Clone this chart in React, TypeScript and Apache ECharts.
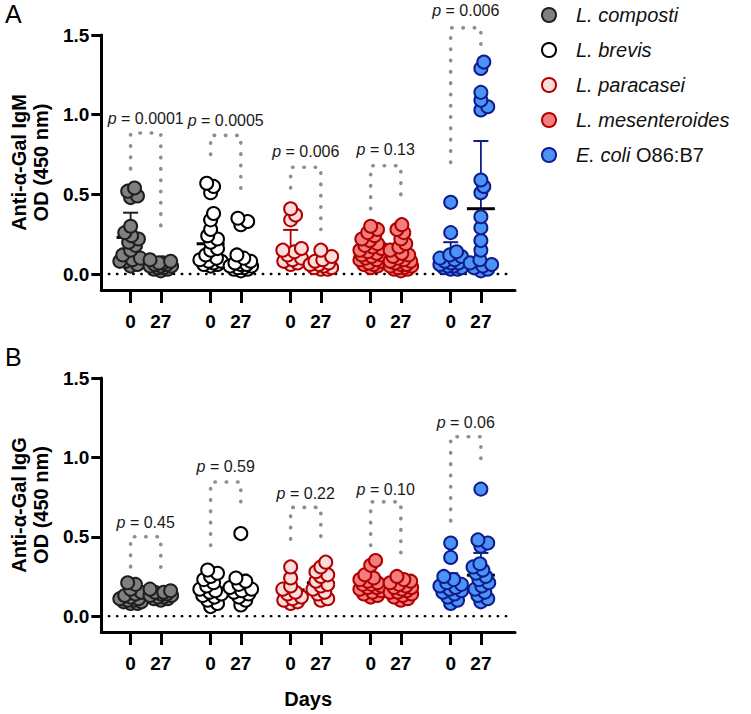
import React, { useEffect, useRef } from "react";
import * as echarts from "echarts";

// ---------- data ----------
const SPECIES = ["L. composti", "L. brevis", "L. paracasei", "L. mesenteroides", "E. coli O86:B7"];
const DAY_LABELS = ["0", "27"];
const Y_TICKS = [0, 0.5, 1.0, 1.5];

// IgM (panel A)
const igmDay0 = [
  [0.54, 0.52, 0.49, 0.48, 0.30, 0.26, 0.24, 0.22, 0.20, 0.18, 0.15, 0.12, 0.10, 0.09, 0.08, 0.08, 0.06, 0.05],
  [0.57, 0.55, 0.51, 0.38, 0.34, 0.28, 0.24, 0.22, 0.20, 0.16, 0.15, 0.12, 0.10, 0.09, 0.08, 0.08, 0.07, 0.06, 0.06, 0.05],
  [0.41, 0.37, 0.34, 0.16, 0.15, 0.14, 0.12, 0.10, 0.09, 0.08, 0.07, 0.06],
  [0.30, 0.28, 0.26, 0.24, 0.22, 0.21, 0.19, 0.18, 0.17, 0.16, 0.15, 0.14, 0.13, 0.12, 0.12, 0.11, 0.10, 0.09, 0.09, 0.08, 0.07, 0.06, 0.06, 0.05, 0.04],
  [0.45, 0.26, 0.14, 0.12, 0.11, 0.10, 0.09, 0.08, 0.07, 0.07, 0.06, 0.05, 0.05, 0.04, 0.04, 0.03, 0.03],
];
const igmDay27 = [
  [0.09, 0.08, 0.07, 0.07, 0.06, 0.06, 0.05, 0.05, 0.05, 0.04, 0.04, 0.03, 0.03, 0.02],
  [0.35, 0.33, 0.31, 0.12, 0.10, 0.08, 0.07, 0.06, 0.06, 0.05, 0.05, 0.04, 0.04, 0.03, 0.03, 0.02],
  [0.15, 0.11, 0.09, 0.08, 0.07, 0.06, 0.06, 0.05, 0.04, 0.04, 0.03, 0.03],
  [0.31, 0.28, 0.26, 0.22, 0.19, 0.17, 0.15, 0.13, 0.12, 0.11, 0.10, 0.09, 0.08, 0.08, 0.07, 0.06, 0.06, 0.05, 0.05, 0.04, 0.04, 0.03, 0.03, 0.02],
  [1.33, 1.29, 1.14, 1.09, 1.05, 1.03, 0.59, 0.55, 0.51, 0.36, 0.29, 0.21, 0.15, 0.09, 0.07, 0.06, 0.05, 0.04, 0.03, 0.02],
];
const igmMean0 = [0.23, 0.19, 0.157, 0.14, 0.09];
const igmSd0 = [0.155, 0.15, 0.12, 0.07, 0.11];
const igmMean27 = [0.055, 0.07, 0.07, 0.10, 0.41];
const igmSd27 = [0.02, 0.05, 0.035, 0.07, 0.425];
const igmP = ["0.0001", "0.0005", "0.006", "0.13", "0.006"];
const igmPLabelY = [0.975, 0.965, 0.77, 0.78, 1.655];
const igmBracketTop = [0.885, 0.87, 0.67, 0.68, 1.545];
const igmBracketLeft = [0.66, 0.75, 0.54, 0.41, 0.70];
const igmBracketRight = [0.26, 0.48, 0.28, 0.44, 1.42];

// IgG (panel B)
const iggDay0 = [
  [0.21, 0.20, 0.17, 0.15, 0.14, 0.13, 0.12, 0.11, 0.11, 0.10, 0.10, 0.09, 0.09, 0.08, 0.08],
  [0.29, 0.27, 0.25, 0.23, 0.21, 0.19, 0.17, 0.16, 0.15, 0.14, 0.13, 0.12, 0.10, 0.08, 0.06],
  [0.31, 0.24, 0.19, 0.17, 0.15, 0.14, 0.12, 0.11, 0.10, 0.09, 0.08],
  [0.35, 0.32, 0.26, 0.24, 0.23, 0.22, 0.21, 0.20, 0.20, 0.19, 0.18, 0.18, 0.17, 0.16, 0.15, 0.14, 0.13, 0.12],
  [0.46, 0.37, 0.25, 0.23, 0.21, 0.20, 0.19, 0.18, 0.17, 0.16, 0.15, 0.14, 0.12, 0.10, 0.08],
];
const iggDay27 = [
  [0.17, 0.16, 0.15, 0.15, 0.14, 0.14, 0.13, 0.13, 0.12, 0.12, 0.11, 0.11, 0.10],
  [0.52, 0.24, 0.22, 0.20, 0.18, 0.17, 0.16, 0.15, 0.14, 0.12, 0.10, 0.07],
  [0.34, 0.31, 0.28, 0.26, 0.25, 0.22, 0.20, 0.19, 0.17, 0.15, 0.14, 0.11, 0.10],
  [0.25, 0.23, 0.22, 0.21, 0.20, 0.19, 0.18, 0.18, 0.17, 0.16, 0.15, 0.15, 0.14, 0.13, 0.12, 0.11, 0.10],
  [0.80, 0.48, 0.46, 0.44, 0.33, 0.31, 0.29, 0.27, 0.25, 0.23, 0.21, 0.19, 0.17, 0.15, 0.13, 0.11, 0.09],
];
const iggMean0 = [0.12, 0.17, 0.165, 0.20, 0.20];
const iggSd0 = [0.04, 0.07, 0.07, 0.06, 0.07];
const iggMean27 = [0.13, 0.18, 0.21, 0.17, 0.258];
const iggSd27 = [0.02, 0.08, 0.07, 0.04, 0.14];
const iggP = ["0.45", "0.59", "0.22", "0.10", "0.06"];
const iggPLabelY = [0.59, 0.94, 0.77, 0.80, 1.22];
const iggBracketTop = [0.50, 0.845, 0.685, 0.72, 1.13];
const iggBracketLeft = [0.31, 0.445, 0.485, 0.445, 0.60];
const iggBracketRight = [0.27, 0.655, 0.45, 0.40, 0.94];

// ---------- layout / style ----------
const GROUP_X = [0, 2.65, 5.3, 7.95, 10.6]; // day-0 slot of each species, day 27 = +1
const X_MIN = -0.97;
const X_MAX = 12.73;
const ZERO_END = 12.47;
const Y_MIN = -0.1;
const Y_MAX = 1.5;
const GRID_W = 422;
const GRID_H = 255;
const PX_X = GRID_W / (X_MAX - X_MIN);
const PX_Y = GRID_H / (Y_MAX - Y_MIN);

const FILL = ["#808080", "#ffffff", "#fddcdc", "#f27e7e", "#4b93f4"];
const EDGE = ["#1e1e1e", "#000000", "#b00000", "#b00000", "#101c8e"];
const FONT = "'Liberation Sans', Arial, Helvetica, sans-serif";

const TICK_POS: number[] = [];
const TICK_LAB: string[] = [];
GROUP_X.forEach((g) => {
  TICK_POS.push(g, g + 1);
  TICK_LAB.push(DAY_LABELS[0], DAY_LABELS[1]);
});

function swarm(values: number[], center: number): [number, number][] {
  const D = 6.8;
  const MAX = 11;
  const placed: { x: number; y: number }[] = [];
  const out: [number, number][] = [];
  const sorted = [...values].sort((a, b) => a - b);
  const cands: number[] = [0];
  for (let k = 1; k <= MAX; k++) cands.push(k, -k);
  for (const v of sorted) {
    const y = v * PX_Y;
    let best = 0;
    let bestScore = -Infinity;
    for (const c of cands) {
      let md = Infinity;
      for (const p of placed) {
        const d = Math.hypot(p.x - c, p.y - y);
        if (d < md) md = d;
      }
      if (md >= D) {
        best = c;
        break;
      }
      if (md > bestScore) {
        bestScore = md;
        best = c;
      }
    }
    placed.push({ x: best, y });
    out.push([center + best / PX_X, v]);
  }
  return out;
}

function panelSeries(
  idx: number,
  d0: number[][],
  d27: number[][],
  m0: number[],
  s0: number[],
  m27: number[],
  s27: number[],
  pVals: string[],
  pY: number[],
  bTop: number[],
  bL: number[],
  bR: number[]
): any[] {
  const series: any[] = [];
  // zero dotted line
  series.push({
    type: "line",
    xAxisIndex: idx,
    yAxisIndex: idx,
    data: [
      [X_MIN + 0.25, 0],
      [ZERO_END, 0],
    ],
    symbol: "none",
    silent: true,
    z: 1,
    lineStyle: { color: "#000", width: 2.4, type: [0.5, 7.6], cap: "round" },
  });
  // brackets
  GROUP_X.forEach((g, i) => {
    series.push({
      type: "line",
      xAxisIndex: idx,
      yAxisIndex: idx,
      clip: false,
      symbol: "none",
      silent: true,
      z: 1,
      data: [
        [g, bL[i]],
        [g, bTop[i]],
        [g + 1, bTop[i]],
        [g + 1, bR[i]],
      ],
      lineStyle: { color: "#8e8e8e", width: 3.6, type: [0.5, 10.8], cap: "round" },
    });
  });
  // error bars + means
  const errData: number[][] = [];
  GROUP_X.forEach((g, i) => {
    errData.push([g, m0[i], s0[i], i]);
    errData.push([g + 1, m27[i], s27[i], i]);
  });
  series.push({
    type: "custom",
    xAxisIndex: idx,
    yAxisIndex: idx,
    silent: true,
    clip: false,
    z: 2,
    encode: { x: 0, y: 1 },
    data: errData,
    renderItem: (_p: any, api: any) => {
      const x = api.value(0);
      const m = api.value(1);
      const sd = api.value(2);
      const ci = api.value(3);
      const pm = api.coord([x, m]);
      const pt = api.coord([x, m + sd]);
      const col = EDGE[ci];
      return {
        type: "group",
        children: [
          { type: "line", shape: { x1: pm[0], y1: pm[1], x2: pt[0], y2: pt[1] }, style: { stroke: col, lineWidth: 1.8 } },
          { type: "line", shape: { x1: pt[0] - 7.5, y1: pt[1], x2: pt[0] + 7.5, y2: pt[1] }, style: { stroke: col, lineWidth: 2 } },
          { type: "line", shape: { x1: pm[0] - 14, y1: pm[1], x2: pm[0] + 14, y2: pm[1] }, style: { stroke: "#000", lineWidth: 3 } },
        ],
      };
    },
  });
  // points
  SPECIES.forEach((name, i) => {
    const pts = [...swarm(d0[i], GROUP_X[i]), ...swarm(d27[i], GROUP_X[i] + 1)];
    series.push({
      type: "scatter",
      name,
      xAxisIndex: idx,
      yAxisIndex: idx,
      data: pts,
      symbol: "circle",
      symbolSize: 13,
      clip: false,
      z: 3,
      itemStyle: { color: FILL[i], borderColor: EDGE[i], borderWidth: 2, opacity: 1 },
      emphasis: { disabled: true },
    });
  });
  // p-value labels
  series.push({
    type: "custom",
    xAxisIndex: idx,
    yAxisIndex: idx,
    silent: true,
    clip: false,
    z: 4,
    encode: { x: 0, y: 1 },
    data: GROUP_X.map((g, i) => [g + 0.5, pY[i], i]),
    renderItem: (_p: any, api: any) => {
      const c = api.coord([api.value(0), api.value(1)]);
      const i = api.value(2);
      return {
        type: "text",
        x: c[0],
        y: c[1],
        style: {
          text: `{i|p} = ${pVals[i]}`,
          align: "center",
          verticalAlign: "middle",
          fill: "#1a1a1a",
          fontSize: 16,
          fontFamily: FONT,
          rich: {
            i: { fontStyle: "italic", fontSize: 16, fontFamily: FONT, fill: "#1a1a1a", color: "#1a1a1a" },
          },
        },
      };
    },
  });
  return series;
}

function axisPair(idx: number, yName: string, xName: string) {
  const x = {
    type: "value",
    gridIndex: idx,
    min: X_MIN,
    max: X_MAX,
    splitLine: { show: false },
    axisLine: { show: true, onZero: false, lineStyle: { color: "#000", width: 3 } },
    axisTick: { show: true, customValues: TICK_POS, length: 13, lineStyle: { color: "#000", width: 3 } },
    axisLabel: {
      customValues: TICK_POS,
      margin: 22,
      color: "#000",
      fontSize: 19,
      fontWeight: "bold",
      fontFamily: FONT,
      formatter: (v: number) => {
        let best = 0;
        TICK_POS.forEach((p, i) => {
          if (Math.abs(p - v) < Math.abs(TICK_POS[best] - v)) best = i;
        });
        return TICK_LAB[best];
      },
    },
    name: xName,
    nameLocation: "middle",
    nameGap: 57,
    nameTextStyle: { color: "#000", fontSize: 20, fontWeight: "bold", fontFamily: FONT },
  };
  const y = {
    type: "value",
    gridIndex: idx,
    min: Y_MIN,
    max: Y_MAX,
    splitLine: { show: false },
    axisLine: { show: true, onZero: false, lineStyle: { color: "#000", width: 3 } },
    axisTick: { show: true, customValues: Y_TICKS, length: 10, lineStyle: { color: "#000", width: 3 } },
    axisLabel: {
      customValues: Y_TICKS,
      margin: 12,
      color: "#000",
      fontSize: 19,
      fontWeight: "bold",
      fontFamily: FONT,
      formatter: (v: number) => v.toFixed(1),
    },
    name: yName,
    nameLocation: "middle",
    nameRotate: 90,
    nameGap: 48,
    nameTextStyle: { color: "#000", fontSize: 20, fontWeight: "bold", fontFamily: FONT, lineHeight: 22 },
  };
  return { x, y };
}

export default function App() {
  const ref = useRef<HTMLDivElement>(null);
  useEffect(() => {
    if (!ref.current) return;
    const chart = echarts.init(ref.current, undefined, { renderer: "svg" });
    const a = axisPair(0, "Anti-α-Gal IgM\nOD (450 nm)", "");
    const b = axisPair(1, "Anti-α-Gal IgG\nOD (450 nm)", "Days");
    const option: any = {
      animation: false,
      backgroundColor: "#ffffff",
      grid: [
        { left: 93, top: 35, width: GRID_W, height: GRID_H, containLabel: false },
        { left: 93, top: 378, width: GRID_W, height: GRID_H - 1, containLabel: false },
      ],
      xAxis: [a.x, b.x],
      yAxis: [a.y, b.y],
      legend: {
        data: SPECIES,
        orient: "vertical",
        left: 536,
        top: 0,
        itemWidth: 44,
        itemHeight: 14,
        itemGap: 15,
        selectedMode: false,
        formatter: (name: string) =>
          name.startsWith("E. coli") ? "{i|E. coli} {n|O86:B7}" : `{i|${name}}`,
        textStyle: {
          color: "#111",
          fontSize: 20,
          lineHeight: 20,
          fontFamily: FONT,
          rich: {
            i: { fontStyle: "italic", fontSize: 20, lineHeight: 20, fontFamily: FONT, color: "#111" },
            n: { fontSize: 20, lineHeight: 20, fontFamily: FONT, color: "#111" },
          },
        },
      },
      graphic: [
        { type: "text", left: 5, top: 1, style: { text: "A", fontSize: 25, fontFamily: FONT, fill: "#000" } },
        { type: "text", left: 5, top: 344, style: { text: "B", fontSize: 25, fontFamily: FONT, fill: "#000" } },
      ],
      series: [
        ...panelSeries(0, igmDay0, igmDay27, igmMean0, igmSd0, igmMean27, igmSd27, igmP, igmPLabelY, igmBracketTop, igmBracketLeft, igmBracketRight),
        ...panelSeries(1, iggDay0, iggDay27, iggMean0, iggSd0, iggMean27, iggSd27, iggP, iggPLabelY, iggBracketTop, iggBracketLeft, iggBracketRight),
      ],
    };
    chart.setOption(option);
    return () => chart.dispose();
  }, []);
  return (
    <div
      ref={ref}
      style={{ position: "absolute", left: 0, top: 0, width: 751, height: 714 }}
    />
  );
}
